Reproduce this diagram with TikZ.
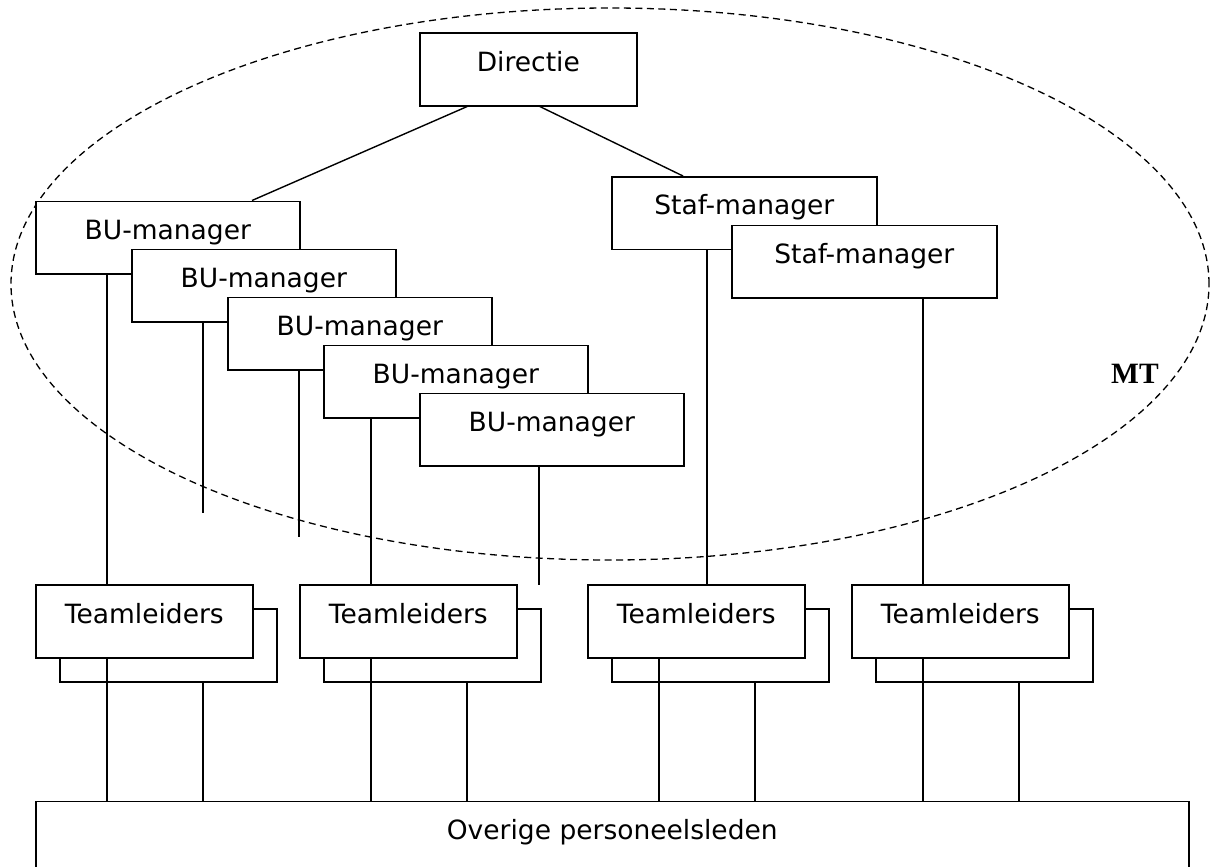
\documentclass[tikz,border=0pt]{standalone}
\usepackage{fontspec}
\setmainfont{DejaVu Sans}
\newfontfamily\mtfont{Liberation Serif}
\begin{document}
\begin{tikzpicture}[x=1pt,y=-1pt,
  box/.style={draw, fill=white, line width=1.6pt, inner sep=0pt, anchor=north west,
    minimum height=72.5pt, text height=20pt, text depth=16.5pt,
    font=\fontsize{26.5}{30}\selectfont},
  bubox/.style={box, minimum width=264pt},
  stafbox/.style={box, minimum width=265pt},
  dirbox/.style={box, minimum width=217pt, minimum height=73pt},
  tlbox/.style={box, minimum width=217pt, minimum height=73pt},
  tlback/.style={tlbox},
  botbox/.style={box, minimum width=1153pt, minimum height=66pt, text height=22pt, text depth=12pt},
  conn/.style={line width=1.4pt},
  mtline/.style={line width=1.3pt, dash pattern=on 7pt off 4.5pt},
  mtlabel/.style={font=\mtfont\bfseries\fontsize{29.5}{31}\selectfont, anchor=base west, inner sep=0pt}
]
\useasboundingbox (0,0) rectangle (1210,867);
% MT ellipse
\draw[mtline] (610,284) ellipse [x radius=599pt, y radius=276pt];
\node[mtlabel] (mt) at (1111,383) {MT};

% Teamleiders (back then front)
\node[tlback] (t1b) at (59,608) {};
\node[tlbox] (t1) at (35,584) {Teamleiders};
\node[tlback] (t2b) at (323,608) {};
\node[tlbox] (t2) at (299,584) {Teamleiders};
\node[tlback] (t3b) at (611,608) {};
\node[tlbox] (t3) at (587,584) {Teamleiders};
\node[tlback] (t4b) at (875,608) {};
\node[tlbox] (t4) at (851,584) {Teamleiders};

% BU managers
\node[bubox] (bu1) at (35,200.5) {BU-manager};
\node[bubox] (bu2) at (131,248.5) {BU-manager};
\node[bubox] (bu3) at (227,296.5) {BU-manager};
\node[bubox] (bu4) at (323,344.5) {BU-manager};
\node[bubox] (bu5) at (419,392.5) {BU-manager};

% Staf managers
\node[stafbox] (staf1) at (611,176) {Staf-manager};
\node[stafbox] (staf2) at (731,224.5) {Staf-manager};

% Directie
\node[dirbox] (dir) at (419,32) {Directie};

% Bottom
\node[botbox] (bot) at (35,800.5) {Overige personeelsleden};

% free ends
\coordinate (e2) at (203,513);
\coordinate (e3) at (299,537);
\coordinate (e5) at (539,585);

% connectors
\draw[conn] ([xshift=48pt]dir.south west) -- ([xshift=217pt]bu1.north west);
\draw[conn] ([xshift=121pt]dir.south west) -- ([xshift=72pt]staf1.north west);

\draw[conn] ([xshift=72pt]bu1.south west) -- ([xshift=72pt]t1.north west);
\draw[conn] ([xshift=72pt]bu2.south west) -- (e2);
\draw[conn] ([xshift=72pt]bu3.south west) -- (e3);
\draw[conn] ([xshift=48pt]bu4.south west) -- ([xshift=72pt]t2.north west);
\draw[conn] ([xshift=120pt]bu5.south west) -- (e5);
\draw[conn] ([xshift=96pt]staf1.south west) -- ([xshift=120pt]t3.north west);
\draw[conn] ([xshift=192pt]staf2.south west) -- ([xshift=72pt]t4.north west);

\draw[conn] ([xshift=72pt]t1.south west) -- ([xshift=72pt]t1.south west |- bot.north);
\draw[conn] ([xshift=144pt]t1b.south west) -- ([xshift=144pt]t1b.south west |- bot.north);
\draw[conn] ([xshift=72pt]t2.south west) -- ([xshift=72pt]t2.south west |- bot.north);
\draw[conn] ([xshift=144pt]t2b.south west) -- ([xshift=144pt]t2b.south west |- bot.north);
\draw[conn] ([xshift=72pt]t3.south west) -- ([xshift=72pt]t3.south west |- bot.north);
\draw[conn] ([xshift=144pt]t3b.south west) -- ([xshift=144pt]t3b.south west |- bot.north);
\draw[conn] ([xshift=72pt]t4.south west) -- ([xshift=72pt]t4.south west |- bot.north);
\draw[conn] ([xshift=144pt]t4b.south west) -- ([xshift=144pt]t4b.south west |- bot.north);
\end{tikzpicture}
\end{document}
